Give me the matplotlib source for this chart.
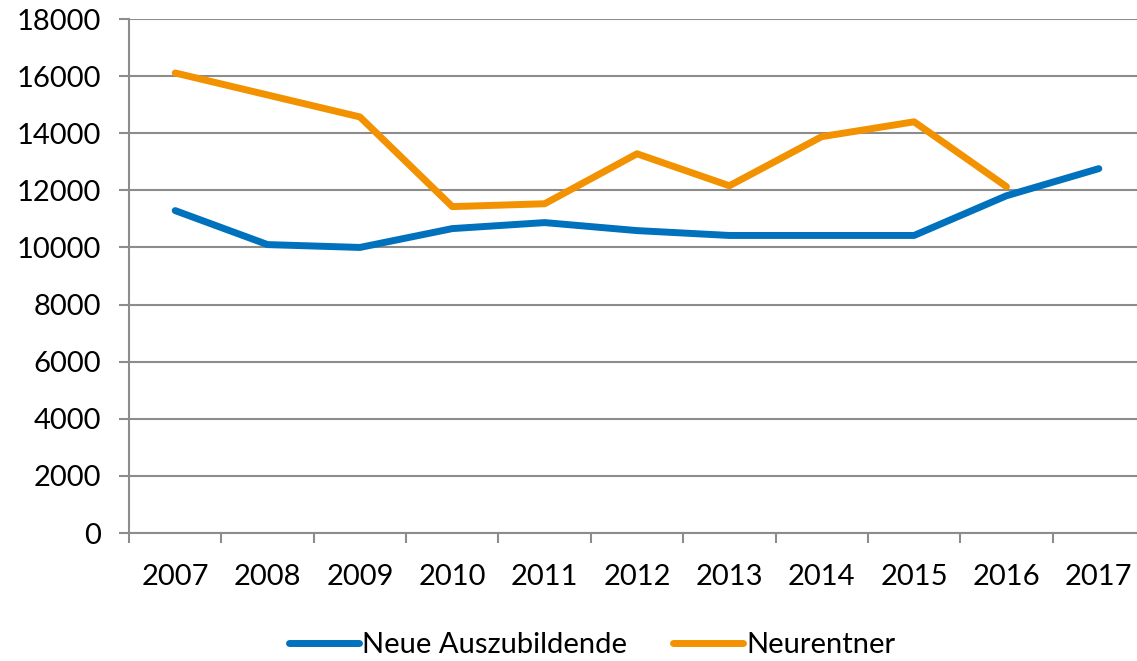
import numpy as np
import matplotlib.pyplot as plt

# Daten
jahre = ['2007', '2008', '2009', '2010', '2011', '2012', '2013', '2014', '2015', '2016', '2017']
auszubildende = [11290, 10100, 10000, 10660, 10870, 10590, 10420, 10420, 10420, 11810, 12760]
neurentner = [16110, 15340, 14570, 11430, 11530, 13280, 12160, 13880, 14400, 12130, np.nan]
y_ticks = list(range(0, 18001, 2000))

plt.rcParams['font.family'] = ['Lato', 'DejaVu Sans']

fig = plt.figure(figsize=(11.37, 6.61), dpi=100)
ax = fig.add_axes([129 / 1137, 1 - 533 / 661, (1145 - 129) / 1137, (533 - 19) / 661])

x = np.arange(len(jahre))
ax.plot(x, auszubildende, color='#0071BC', lw=5, solid_capstyle='round',
        solid_joinstyle='round', label='Neue Auszubildende', zorder=3)
ax.plot(x, neurentner, color='#F39200', lw=5, solid_capstyle='round',
        solid_joinstyle='round', label='Neurentner', zorder=3)

ax.set_xlim(-0.5, len(jahre) - 0.5)
ax.set_ylim(0, 18000)
ax.set_yticks(y_ticks)
ax.set_yticklabels([str(v) for v in y_ticks])
ax.set_xticks(x)
ax.set_xticklabels(jahre)
ax.set_xticks(np.arange(-0.5, len(jahre)), minor=True)

grau = '#8C8C8C'
ax.grid(axis='y', color=grau, lw=1.5, zorder=1)
for s in ['top', 'right']:
    ax.spines[s].set_visible(False)
for s in ['left', 'bottom']:
    ax.spines[s].set_color(grau)
    ax.spines[s].set_linewidth(1.5)

ax.tick_params(axis='y', length=7, width=1.5, color=grau, labelsize=21, pad=13)
ax.tick_params(axis='x', which='major', length=0, labelsize=21, pad=22)
ax.tick_params(axis='x', which='minor', length=7, width=1.5, color=grau)

fig.legend(loc='center', bbox_to_anchor=(592 / 1137, 1 - 645 / 661), ncol=2,
           frameon=False, fontsize=21, handlelength=2.4, handletextpad=0.1,
           columnspacing=1.6)

fig.savefig('out.png', dpi=100)
